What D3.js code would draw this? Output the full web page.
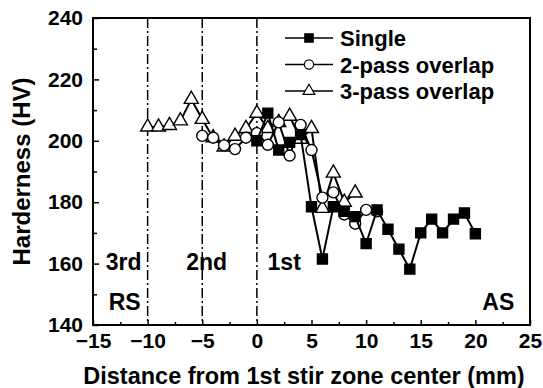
<!DOCTYPE html>
<html>
<head>
<meta charset="utf-8">
<script src="https://cdn.jsdelivr.net/npm/d3@7"></script>
<style>
  body { margin: 0; background: #fff; }
  text { font-family: "Liberation Sans", Arial, sans-serif; font-weight: bold; fill: #000; }
</style>
</head>
<body>
<div id="chart"></div>
<script>
// data
const singleX = [0, 1, 2, 3, 4, 5, 6, 7, 8, 9, 10, 11, 12, 13, 14, 15, 16, 17, 18, 19, 20];
const singleY = [200, 209, 197, 199.5, 202, 178.5, 161.5, 178.5, 177, 175.3, 166.5, 177.5, 171.2, 164.7, 158.2, 170, 174.5, 170, 174.5, 176.5, 169.7];

const pass2X = [-5, -4, -3, -2, -1, 0, 1, 2, 3, 4, 5, 6, 7, 8, 9, 10, 11];
const pass2Y = [201.6, 201, 198.5, 197.3, 201, 202.5, 198.7, 206, 195.2, 205.2, 197, 181.5, 183.2, 176, 173, 177.5, 177];

const pass3X = [-10, -9, -8, -7, -6, -5, -4, -3, -2, -1, 0, 1, 2, 3, 4, 5, 6, 7, 8, 9];
const pass3Y = [204.5, 204.5, 205, 206.5, 213.5, 207, 201, 198, 201.5, 204, 209, 204, 206, 208, 200.5, 204, 178, 189.5, 180, 183];

const xTicks = [-15, -10, -5, 0, 5, 10, 15, 20, 25];
const yTicks = [140, 160, 180, 200, 220, 240];
const zoneLines = [-10, -5, 0];
const zoneLabels = [["3rd", -12.2], ["2nd", -4.6], ["1st", 2.5]];

const W = 543, H = 388;
const M = {left: 93, right: 13, top: 18, bottom: 63};

const svg = d3.select("#chart").append("svg")
    .attr("width", W)
    .attr("height", H);

const x = d3.scaleLinear().domain([-15, 25]).range([M.left, W - M.right]);
const y = d3.scaleLinear().domain([140, 240]).range([H - M.bottom, M.top]);

// inward ticks
svg.append("g")
    .attr("transform", `translate(0,${H - M.bottom})`)
    .call(d3.axisBottom(x).tickValues(xTicks).tickSize(-5).tickPadding(8).tickFormat(d3.format("d")));
svg.append("g")
    .attr("transform", `translate(0,${H - M.bottom})`)
    .call(d3.axisBottom(x).tickValues(d3.range(-12.5, 25, 5)).tickSize(-3).tickFormat(""));
svg.append("g")
    .attr("transform", `translate(${M.left},0)`)
    .call(d3.axisLeft(y).tickValues(yTicks).tickSize(-6).tickPadding(10));
svg.append("g")
    .attr("transform", `translate(${M.left},0)`)
    .call(d3.axisLeft(y).tickValues(d3.range(150, 240, 20)).tickSize(-4).tickFormat(""));

svg.selectAll(".domain").remove();
svg.selectAll(".tick line").attr("stroke", "#000").attr("stroke-width", 1.5);
svg.selectAll(".tick text").style("font-size", "21px");

// frame
svg.append("rect")
    .attr("x", M.left).attr("y", M.top)
    .attr("width", W - M.left - M.right).attr("height", H - M.top - M.bottom)
    .attr("fill", "none").attr("stroke", "#000").attr("stroke-width", 2);

// zone boundaries
svg.selectAll(".zone").data(zoneLines).join("line")
    .attr("x1", d => x(d)).attr("x2", d => x(d))
    .attr("y1", M.top).attr("y2", H - M.bottom)
    .attr("stroke", "#000").attr("stroke-width", 1.5)
    .attr("stroke-dasharray", "10,3,2,3");

svg.selectAll(".zlab").data(zoneLabels).join("text")
    .attr("x", d => x(d[1])).attr("y", y(158))
    .attr("text-anchor", "middle")
    .style("font-size", "23px")
    .text(d => d[0]);

svg.append("text").attr("x", x(-12.1)).attr("y", y(144.8))
    .attr("text-anchor", "middle").style("font-size", "23px").text("RS");
svg.append("text").attr("x", x(22.1)).attr("y", y(144.8))
    .attr("text-anchor", "middle").style("font-size", "23px").text("AS");

const series = [
    {name: "Single", xs: singleX, ys: singleY, shape: d3.symbolSquare, size: 100, fill: "#000"},
    {name: "2-pass overlap", xs: pass2X, ys: pass2Y, shape: d3.symbolCircle, size: 95, fill: "#fff"},
    {name: "3-pass overlap", xs: pass3X, ys: pass3Y, shape: d3.symbolTriangle, size: 85, fill: "#fff"}
];

const line = d3.line().x(d => x(d[0])).y(d => y(d[1]));

series.slice().reverse().forEach(s => {
    const pts = s.xs.map((v, i) => [v, s.ys[i]]);
    const g = svg.append("g");
    g.append("path")
        .attr("d", line(pts))
        .attr("fill", "none").attr("stroke", "#000").attr("stroke-width", 2);
    g.selectAll("path.pt").data(pts).join("path")
        .attr("class", "pt")
        .attr("transform", d => `translate(${x(d[0])},${y(d[1])})`)
        .attr("d", d3.symbol().type(s.shape).size(s.size))
        .attr("fill", s.fill).attr("stroke", "#000").attr("stroke-width", 1.4);
});

// legend
const legend = svg.append("g");
series.forEach((s, i) => {
    const ly = 38 + i * 26.5;
    legend.append("line")
        .attr("x1", 285).attr("x2", 333).attr("y1", ly).attr("y2", ly)
        .attr("stroke", "#000").attr("stroke-width", 1.5);
    legend.append("path")
        .attr("transform", `translate(309,${ly})`)
        .attr("d", d3.symbol().type(s.shape).size(s.size * 0.7))
        .attr("fill", s.fill).attr("stroke", "#000").attr("stroke-width", 1.2);
    legend.append("text")
        .attr("x", 340).attr("y", ly + 8)
        .style("font-size", "22px")
        .text(s.name);
});

// axis titles
svg.append("text")
    .attr("x", 304).attr("y", 384)
    .attr("text-anchor", "middle")
    .style("font-size", "23.5px")
    .text("Distance from 1st stir zone center (mm)");
svg.append("text")
    .attr("transform", `translate(30,${(M.top + H - M.bottom) / 2}) rotate(-90)`)
    .attr("text-anchor", "middle")
    .style("font-size", "24px")
    .text("Harderness (HV)");
</script>
</body>
</html>
